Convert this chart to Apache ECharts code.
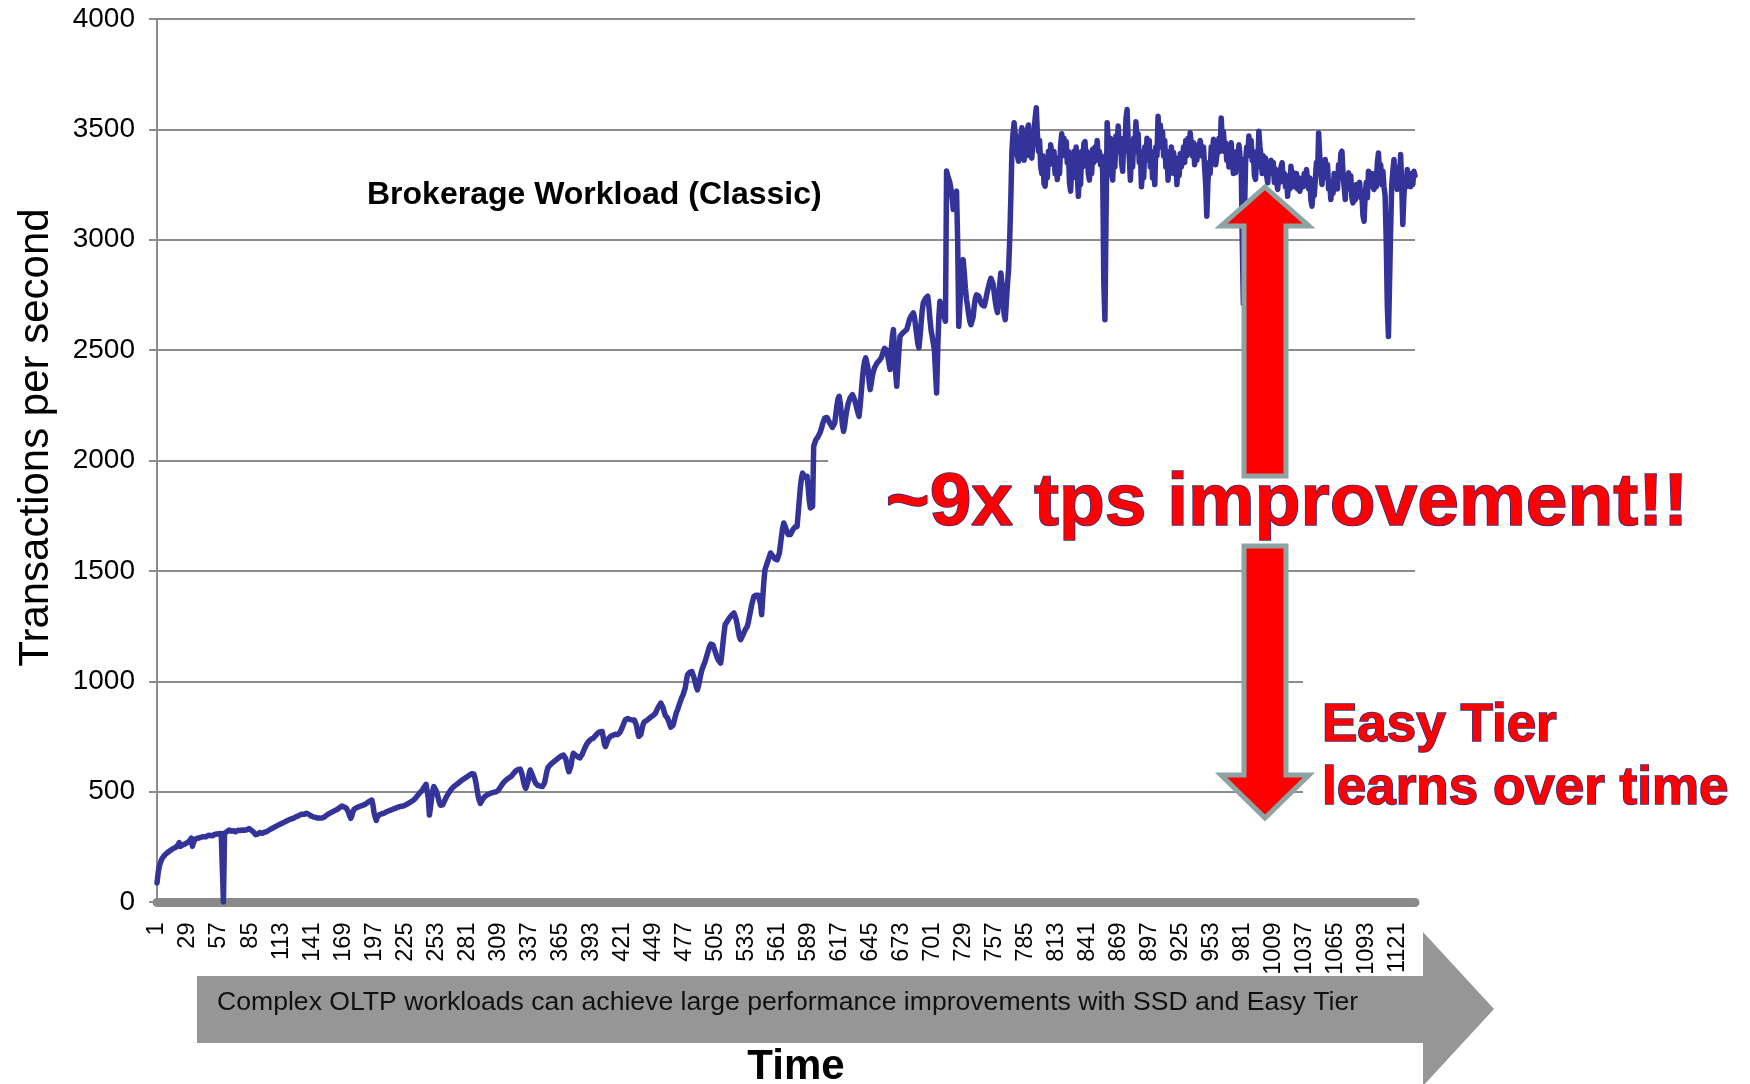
<!DOCTYPE html>
<html><head><meta charset="utf-8">
<script src="https://cdn.jsdelivr.net/npm/echarts@6/dist/echarts.min.js"></script>
<style>html,body{margin:0;padding:0;background:#fff}#chart{width:1750px;height:1084px}</style>
</head><body><div id="chart"></div>
<script>
// Transactions per second, one value per time step (1..1137)
const tps = [
86,130,160,177,190,200,207,213,218,222,226,230,234,237,240,243,245,248,251,258,
269,252,255,258,256,262,265,268,272,275,280,289,252,270,283,286,288,285,290,292,
294,291,296,298,295,299,301,298,302,304,300,303,306,305,308,306,309,307,310,305,
0,312,315,318,322,326,324,321,319,323,320,318,322,325,327,324,322,326,328,325,
329,327,331,333,330,326,322,318,312,305,301,308,312,315,313,311,314,316,318,319,
322,325,328,331,334,336,339,342,345,347,350,352,355,357,359,362,365,367,369,372,
374,376,378,379,382,385,387,389,391,394,396,398,400,398,400,402,399,397,393,390,
388,386,384,383,381,380,379,380,382,381,379,384,389,393,396,399,402,405,408,410,
412,415,418,420,424,428,432,435,432,430,428,425,420,405,390,379,392,410,420,425,
427,429,431,433,435,436,438,440,443,447,450,454,457,460,462,440,405,385,369,385,
392,396,399,400,401,402,405,408,410,412,414,416,418,420,422,424,426,428,430,432,
433,434,435,436,438,441,444,447,450,453,456,459,462,468,474,480,487,493,498,503,
510,518,526,533,538,470,394,430,470,505,523,515,505,490,470,450,438,432,440,452,
462,472,482,490,498,505,512,518,523,527,531,535,538,542,546,550,554,558,561,564,
567,570,574,578,581,583,580,565,540,510,480,460,447,455,465,472,478,482,485,488,
490,492,494,495,497,498,499,500,505,512,520,528,535,541,547,552,556,560,563,565,
570,576,582,588,594,598,600,601,602,590,570,545,525,515,511,545,580,598,590,575,
560,548,538,530,528,526,525,524,523,523,540,565,590,608,617,621,625,630,634,638,
642,646,650,654,658,661,664,666,662,650,630,605,590,583,620,655,674,670,665,660,
657,655,653,660,670,682,694,705,715,722,728,734,738,740,742,748,754,760,765,769,
771,772,772,745,715,704,718,732,742,749,752,754,756,758,760,760,758,760,768,778,
790,802,815,826,833,831,829,827,826,825,825,825,825,800,770,750,742,760,785,805,
815,818,822,826,830,834,838,842,845,848,855,865,876,886,895,901,895,880,862,845,
838,833,820,805,792,787,800,820,840,858,870,885,900,915,928,938,946,970,1000,1029,
1035,1040,1043,1044,1035,1015,995,975,961,980,1005,1030,1050,1065,1074,1090,1108,1125,1142,1158,
1168,1173,1165,1150,1135,1120,1105,1095,1088,1082,1120,1170,1215,1256,1265,1272,1280,1288,1294,1300,
1305,1309,1300,1280,1255,1225,1200,1188,1195,1208,1220,1232,1240,1248,1268,1295,1320,1345,1365,1384,
1388,1390,1392,1390,1388,1350,1301,1380,1450,1505,1520,1535,1550,1565,1581,1575,1568,1560,1555,1552,
1550,1550,1580,1620,1660,1695,1717,1705,1690,1675,1665,1656,1665,1675,1685,1692,1698,1700,1701,1760,
1820,1880,1920,1943,1935,1925,1930,1928,1880,1820,1785,1790,1792,2064,2080,2094,2100,2108,2117,2130,
2145,2165,2180,2192,2200,2195,2185,2175,2165,2158,2150,2147,2170,2210,2250,2280,2291,2260,2210,2160,
2132,2160,2200,2230,2255,2270,2285,2292,2298,2290,2275,2255,2235,2215,2200,2250,2310,2370,2420,2450,
2465,2472,2420,2360,2321,2350,2385,2405,2420,2430,2440,2448,2452,2457,2465,2480,2495,2508,2517,2500,
2470,2440,2412,2500,2560,2593,2500,2400,2336,2420,2500,2563,2570,2575,2580,2585,2590,2593,2610,2630,
2645,2655,2662,2669,2650,2610,2570,2530,2510,2560,2620,2680,2714,2725,2735,2740,2744,2700,2640,2590,
2563,2560,2500,2400,2306,2500,2650,2721,2700,2680,2660,2645,2631,3311,3290,3275,3258,3230,3190,3137,
3180,3210,3220,3000,2608,2700,2800,2870,2910,2850,2780,2730,2698,2660,2630,2615,2608,2650,2700,2735,
2750,2759,2745,2730,2715,2705,2700,2700,2720,2745,2770,2790,2810,2825,2834,2800,2760,2720,2690,2670,
2720,2800,2849,2800,2720,2660,2638,2720,2800,2864,3000,3182,3400,3480,3530,3480,3420,3380,3356,3420,
3470,3507,3420,3360,3450,3380,3500,3520,3440,3380,3370,3450,3490,3550,3598,3480,3400,3450,3333,3300,
3380,3255,3243,3330,3280,3400,3340,3430,3424,3350,3400,3300,3370,3273,3360,3300,3430,3480,3400,3460,
3380,3445,3350,3400,3260,3220,3330,3280,3400,3350,3420,3300,3197,3300,3250,3400,3330,3435,3445,3360,
3400,3300,3270,3360,3300,3410,3350,3420,3360,3450,3370,3400,3340,3380,3300,2800,2638,3100,3530,3440,
3380,3460,3300,3270,3400,3330,3470,3420,3515,3400,3460,3350,3310,3450,3400,3550,3590,3450,3370,3270,
3400,3330,3460,3400,3535,3440,3480,3350,3400,3240,3330,3280,3420,3360,3460,3390,3450,3330,3400,3280,
3350,3250,3420,3380,3560,3450,3520,3420,3490,3380,3450,3330,3400,3270,3360,3300,3420,3340,3395,3300,
3370,3250,3330,3290,3390,3330,3370,3420,3350,3450,3380,3460,3400,3485,3490,3380,3440,3340,3400,3360,
3430,3380,3450,3455,3380,3420,3330,3250,3107,3260,3350,3300,3420,3380,3455,3400,3340,3380,3420,3460,
3400,3552,3450,3490,3400,3440,3360,3420,3330,3400,3439,3360,3300,3380,3303,3400,3350,3430,3380,3350,
3000,2710,3100,3350,3420,3380,3470,3400,3450,3360,3400,3290,3273,3380,3330,3492,3420,3380,3300,3380,
3320,3370,3290,3258,3340,3300,3360,3300,3350,3260,3320,3260,3228,3300,3260,3330,3349,3270,3300,3240,
3290,3197,3280,3230,3333,3260,3305,3240,3288,3300,3230,3280,3220,3212,3280,3240,3300,3250,3318,3270,
3230,3280,3180,3152,3230,3200,3273,3350,3300,3484,3380,3300,3250,3330,3280,3364,3300,3340,3230,3260,
3182,3250,3210,3300,3240,3288,3230,3340,3280,3390,3401,3300,3240,3182,3280,3230,3303,3240,3290,3190,
3167,3230,3180,3250,3200,3228,3260,3190,3210,3110,3084,3200,3260,3190,3310,3318,3250,3300,3240,3228,
3300,3240,3350,3393,3300,3340,3250,3310,3240,3200,3000,2700,2562,2800,3050,3250,3310,3364,3280,3330,
3228,3300,3250,3386,3250,3069,3200,3280,3240,3318,3260,3300,3240,3280,3250,3310,3290
];
// Time step categories 1..N (labels shown every 28 steps: 1, 29, 57, ... 1121)
const categories = tps.map((_, i) => String(i + 1));
const labelEvery = 28;
const yMin = 0, yMax = 4000, yStep = 500;

const titleText = 'Brokerage Workload (Classic)';
const yName = 'Transactions per second';
const xName = 'Time';
const caption = 'Complex OLTP workloads can achieve large performance improvements with SSD and Easy Tier';
const bigNote = '~9x tps improvement!!';
const sideNote = ['Easy Tier', 'learns over time'];

const FONT = '"Liberation Sans", Arial, sans-serif';
const redText = {
  fill: '#ff0000', stroke: '#2d2f86', lineWidth: 1.6,
  shadowColor: 'rgba(0,0,0,0.45)', shadowBlur: 3, shadowOffsetX: 3, shadowOffsetY: 4
};

const chart = echarts.init(document.getElementById('chart'), null, {renderer: 'canvas'});
chart.setOption({
  animation: false,
  backgroundColor: '#ffffff',
  title: {
    text: titleText, left: 367, top: 179, padding: 0,
    textStyle: {fontFamily: FONT, fontSize: 32, fontWeight: 'bold', color: '#000'}
  },
  grid: {left: 157, top: 19, width: 1258, height: 883, containLabel: false, outerBoundsMode: 'none'},
  xAxis: {
    type: 'category', data: categories, boundaryGap: false, offset: 4.5,
    axisLine: {show: true, lineStyle: {color: '#8a8a8a', width: 9}},
    axisTick: {show: false},
    axisLabel: {interval: labelEvery - 1, rotate: 90, margin: 16, fontFamily: FONT, fontSize: 23.5, color: '#000'},
    splitLine: {show: false},
    name: xName, nameLocation: 'middle', nameGap: 140,
    nameTextStyle: {fontFamily: FONT, fontSize: 42, fontWeight: 'bold', color: '#000', padding: [0, 0, 0, 20]}
  },
  yAxis: {
    type: 'value', min: yMin, max: yMax, interval: yStep,
    axisLine: {show: true, lineStyle: {color: '#8c8c8c', width: 2}},
    axisTick: {show: true, length: 8, lineStyle: {color: '#8c8c8c', width: 2}},
    axisLabel: {margin: 22, fontFamily: FONT, fontSize: 28, color: '#000', formatter: v => String(v)},
    splitLine: {show: true, lineStyle: {color: '#8c8c8c', width: 2}},
    name: yName, nameLocation: 'middle', nameGap: 100, nameRotate: 90,
    nameTextStyle: {fontFamily: FONT, fontSize: 42, color: '#000', padding: [0, 0, 0, 46]}
  },
  series: [{
    type: 'line', data: tps, showSymbol: false, symbol: 'none', z: 3,
    lineStyle: {color: '#333399', width: 5.5, join: 'round', cap: 'round'}
  }],
  graphic: [
    // big grey arrow at the bottom
    {type: 'polygon', z: 1, silent: true,
      shape: {points: [[197,976],[1423,976],[1423,932],[1494,1009],[1423,1086],[1423,1043],[197,1043]]},
      style: {fill: '#969696'}},
    {type: 'text', z: 2, silent: true, x: 217, y: 1003,
      style: {text: caption, font: '26.6px ' + FONT, fill: '#111', verticalAlign: 'middle'}},
    // white text boxes covering grid lines
    {type: 'rect', z: 20, silent: true, shape: {x: 828, y: 442, width: 922, height: 106}, style: {fill: '#fff'}},
    {type: 'rect', z: 20, silent: true, shape: {x: 1303, y: 625, width: 447, height: 215}, style: {fill: '#fff'}},
    // red double arrow
    {type: 'polygon', z: 21, silent: true,
      shape: {points: [[1244,476],[1244,226],[1221,226],[1265,187],[1309,226],[1286,226],[1286,476]]},
      style: {fill: '#ff0000', stroke: '#8ea4a4', lineWidth: 5, lineJoin: 'miter'}},
    {type: 'polygon', z: 21, silent: true,
      shape: {points: [[1244,546],[1286,546],[1286,775],[1309,775],[1265,818],[1221,775],[1244,775]]},
      style: {fill: '#ff0000', stroke: '#8ea4a4', lineWidth: 5, lineJoin: 'miter'}},
    // annotations
    {type: 'text', z: 22, silent: true, x: 1287, y: 504,
      style: Object.assign({text: bigNote, font: 'bold 75px ' + FONT, align: 'center', verticalAlign: 'middle'}, redText)},
    {type: 'text', z: 22, silent: true, x: 1322, y: 726,
      style: Object.assign({text: sideNote[0], font: 'bold 53px ' + FONT, align: 'left', verticalAlign: 'middle'}, redText)},
    {type: 'text', z: 22, silent: true, x: 1322, y: 789,
      style: Object.assign({text: sideNote[1], font: 'bold 53px ' + FONT, align: 'left', verticalAlign: 'middle'}, redText)}
  ]
});
</script>
</body></html>
